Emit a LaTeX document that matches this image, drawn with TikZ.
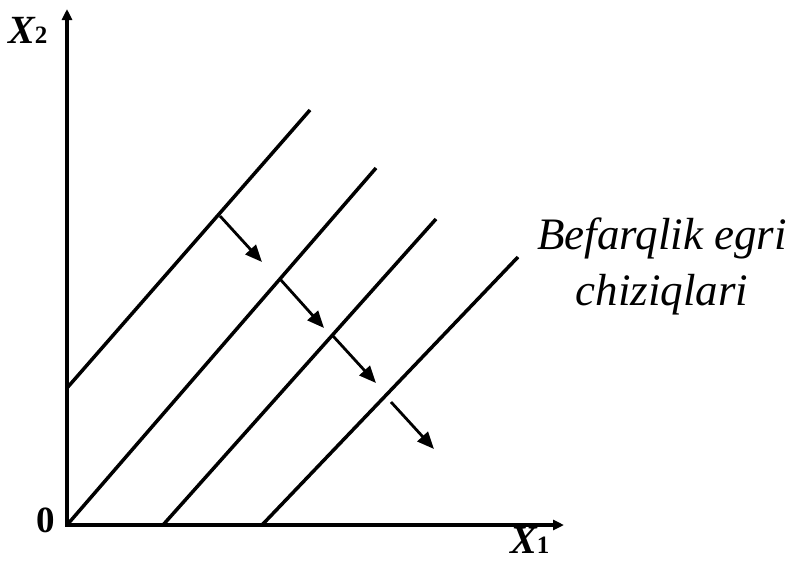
\documentclass[tikz,border=0pt]{standalone}
\usepackage{fontspec}
\setmainfont{Liberation Serif}
\usetikzlibrary{arrows.meta}
\definecolor{ink}{RGB}{0,0,0}

\begin{document}
\begin{tikzpicture}[x=1pt,y=-1pt,
    axis/.style={ink, line width=3.5pt, line join=miter,
      {Triangle[length=11pt,width=10pt]}-{Triangle[length=11pt,width=10pt]}},
    curve/.style={ink, line width=3.5pt},
    shiftarrow/.style={ink, line width=2.8pt, -{Triangle[length=17pt,width=14pt]}},
    axislabel/.style={font=\fontsize{40}{40}\selectfont\bfseries\itshape, inner sep=0pt},
    note/.style={font=\fontsize{45}{56}\selectfont\itshape, align=center, inner sep=0pt}]
  \useasboundingbox (0,0) rectangle (798,562);
  % axes
  \coordinate (O) at (67,525);
  \coordinate (ytop) at (67,9);
  \coordinate (xend) at (564,525);
  \draw[axis] (ytop) -- (O) -- (xend);
  \node[axislabel, anchor=base west] (xtwo) at (8,43)
    {X{\fontsize{25}{25}\selectfont\upshape 2}};
  \node[axislabel, anchor=base west] (xone) at (510,553)
    {X{\fontsize{25}{25}\selectfont\upshape 1}};
  \node[font=\fontsize{37}{37}\selectfont\bfseries, inner sep=0pt,
    anchor=base] (zero) at (46,532) {0};
  % indifference lines
  \coordinate (a0) at (67,388);  \coordinate (a1) at (310,110);
  \coordinate (b0) at (67,525);  \coordinate (b1) at (376,168);
  \coordinate (c0) at (163,525); \coordinate (c1) at (436,219);
  \coordinate (d0) at (262,525); \coordinate (d1) at (518,257);
  \draw[curve] (a0) -- (a1);
  \draw[curve] (b0) -- (b1);
  \draw[curve] (c0) -- (c1);
  \draw[curve] (d0) -- (d1);
  % shift arrows
  \coordinate (p0) at (220,216); \coordinate (p1) at (262,262);
  \coordinate (q0) at (280,279); \coordinate (q1) at (324,328);
  \coordinate (r0) at (333,336); \coordinate (r1) at (376,383);
  \coordinate (s0) at (391,402); \coordinate (s1) at (434,449);
  \draw[shiftarrow] (p0) -- (p1);
  \draw[shiftarrow] (q0) -- (q1);
  \draw[shiftarrow] (r0) -- (r1);
  \draw[shiftarrow] (s0) -- (s1);
  \node[note, anchor=base] (legend) at (662,305) {Befarqlik egri\\chiziqlari};
\end{tikzpicture}
\end{document}
